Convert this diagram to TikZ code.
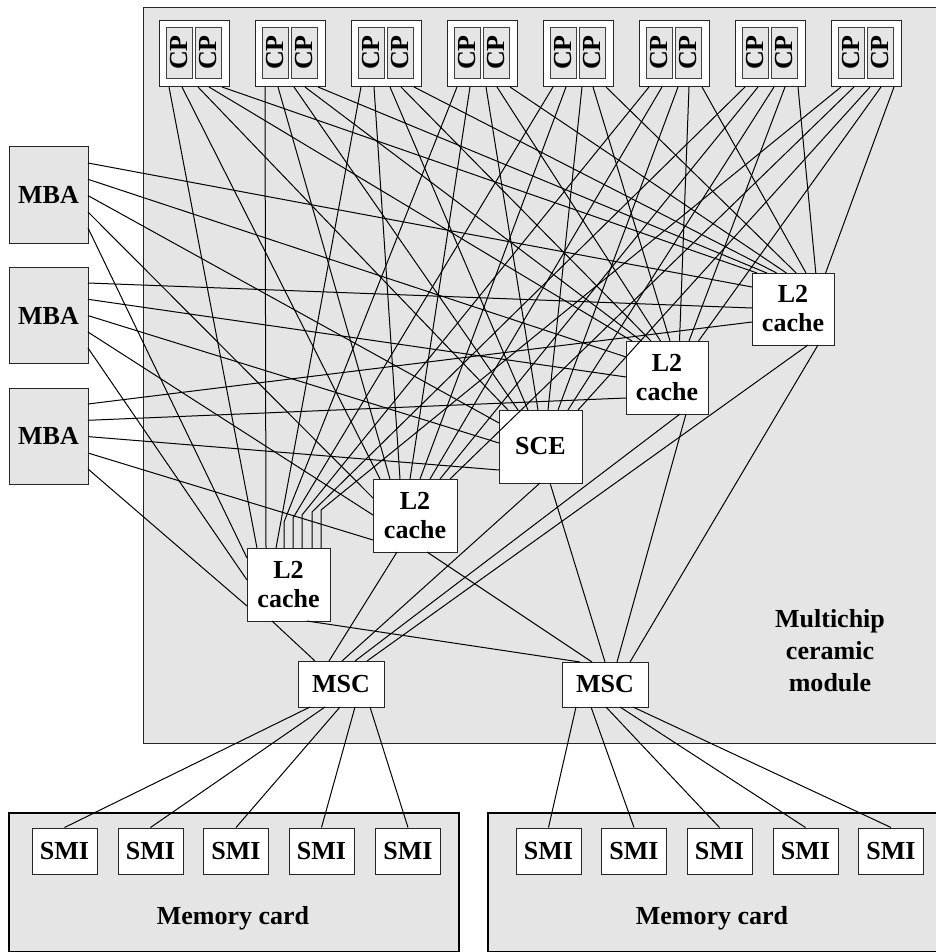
\documentclass[tikz,border=0pt]{standalone}
\usepackage{fontspec}
\usepackage{graphicx}
\setmainfont{Liberation Serif}
\definecolor{modgray}{RGB}{229,229,229}
\begin{document}
\begin{tikzpicture}[x=1pt,y=-1pt,
  font=\fontsize{26}{32}\selectfont\bfseries,
  box/.style={draw=black!85, fill=white, line width=1pt, inner sep=0pt},
  graybox/.style={draw=black!85, fill=modgray, line width=1pt, inner sep=0pt},
  cardbox/.style={draw=black, fill=modgray, line width=2pt, inner sep=0pt},
  cpbox/.style={draw=black!75, fill=modgray, line width=0.8pt, inner sep=0pt, minimum width=26.5, minimum height=51},
  wire/.style={line width=1pt, black},
]
\useasboundingbox (0,0) rectangle (935,952);
% module and memory cards
\node[graybox, anchor=north west, minimum width=800, minimum height=736] (module) at (143,7) {};
\node[cardbox, anchor=north west, minimum width=450, minimum height=139] (card1) at (8,812) {};
\node[cardbox, anchor=north west, minimum width=460, minimum height=139] (card2) at (487,812) {};
\node (mcmlabel) [align=center] at (830,651) {Multichip\\ceramic\\module};
\node (card1label) at (233,918) {Memory card};
\node (card2label) at (712,918) {Memory card};

% CP chips
\foreach \i in {1,...,8} {
  \pgfmathsetmacro\cx{194+96*(\i-1)}
  \node[box, minimum width=70, minimum height=66] (cp\i) at (\cx,54) {};
  \node[cpbox] (cp\i a) at (\cx-14.75,52.5) {\rotatebox{90}{CP}};
  \node[cpbox] (cp\i b) at (\cx+14.5,52.5) {\rotatebox{90}{CP}};
  \pgfmathsetmacro\lx{\cx-35}
  \coordinate (cp\i-A) at (\lx+10,87);
  \coordinate (cp\i-B) at (\lx+23,87);
  \coordinate (cp\i-S) at (\lx+39,87);
  \coordinate (cp\i-C) at (\lx+50,87);
  \coordinate (cp\i-D) at (\lx+63,87);
}

% MBAs
\node[graybox, minimum width=79, minimum height=96] (mba1) at (48.5,195) {MBA};
\node[graybox, minimum width=79, minimum height=96] (mba2) at (48.5,315.5) {MBA};
\node[graybox, minimum width=79, minimum height=96] (mba3) at (48.5,436) {MBA};
\foreach \m/\top in {1/147,2/267,3/388} {
  \coordinate (mba\m-D) at (88,\top+16);
  \coordinate (mba\m-C) at (88,\top+32.3);
  \coordinate (mba\m-S) at (88,\top+48.6);
  \coordinate (mba\m-B) at (88,\top+65);
  \coordinate (mba\m-A) at (88,\top+81);
}

% L2 caches and SCE
\node[box, minimum width=83, minimum height=73, align=center] (l2a) at (288.5,584.5) {L2\\[-3pt]cache};
\node[box, minimum width=84, minimum height=73, align=center] (l2b) at (415,515.5) {L2\\[-3pt]cache};
\node[box, minimum width=82, minimum height=73, align=center] (l2c) at (667,377.5) {L2\\[-3pt]cache};
\node[box, minimum width=82, minimum height=72, align=center] (l2d) at (793,309) {L2\\[-3pt]cache};
\node[box, minimum width=83, minimum height=73] (sce) at (540.5,446.5) {SCE};

% MSCs
\node[box, minimum width=86, minimum height=46] (msc1) at (341,684) {MSC};
\node[box, minimum width=86, minimum height=45] (msc2) at (605,684.5) {MSC};

% SMIs
\foreach \k/\sx in {1/64.5,2/150.5,3/236,4/321.5,5/408} {
  \node[box, minimum width=65, minimum height=46] (smi1\k) at (\sx,851) {SMI};
}
\foreach \k/\sx in {1/548.5,2/634,3/719.5,4/805.5,5/891} {
  \node[box, minimum width=65, minimum height=46] (smi2\k) at (\sx,851) {SMI};
}

% entry points on tops of L2 caches / SCE from CP chips
\foreach \i/\ea in {1/257,2/266,3/276,4/284,5/293,6/302,7/312,8/321} {
  \pgfmathsetmacro\eb{380+10*(\i-1)}
  \pgfmathsetmacro\es{508+10*(\i-1)}
  \pgfmathsetmacro\ec{632+9.5*(\i-1)}
  \pgfmathsetmacro\ed{757+9.8*(\i-1)}
  \coordinate (inA\i) at (\ea,548);
  \coordinate (inB\i) at (\eb,479);
  \coordinate (inS\i) at (\es,410);
  \coordinate (inC\i) at (\ec,341);
  \coordinate (inD\i) at (\ed,273);
}
\foreach \i/\yb in {4/522,5/518,6/515,7/512,8/510} {
  \coordinate (bendA\i) at (inA\i |- 0,\yb);
}

% CP wires
\foreach \i in {1,2,3} { \draw[wire] (cp\i-A) -- (inA\i); }
\foreach \i in {4,...,8} { \draw[wire] (cp\i-A) -- (bendA\i) -- (inA\i); }
\foreach \i in {1,...,8} {
  \draw[wire] (cp\i-B) -- (inB\i);
  \draw[wire] (cp\i-S) -- (inS\i);
  \draw[wire] (cp\i-C) -- (inC\i);
  \draw[wire] (cp\i-D) -- (inD\i);
}

% MBA entry points (left sides)
\foreach \m/\yd/\yc/\ys/\ybb/\ya in {1/287/357/423/498/558, 2/308/377/443/515/580, 3/322/398/470/540/606} {
  \coordinate (mD\m) at (752,\yd);
  \coordinate (mC\m) at (626,\yc);
  \coordinate (mS\m) at (499,\ys);
  \coordinate (mB\m) at (373,\ybb);
  \coordinate (mA\m) at (247,\ya);
  \draw[wire] (mba\m-D) -- (mD\m);
  \draw[wire] (mba\m-C) -- (mC\m);
  \draw[wire] (mba\m-S) -- (mS\m);
  \draw[wire] (mba\m-B) -- (mB\m);
  \draw[wire] (mba\m-A) -- (mA\m);
}

% L2/SCE to MSC
\coordinate (oA1) at (272,621);  \coordinate (oA2) at (307,621);
\coordinate (oB1) at (397,552);  \coordinate (oB2) at (427,552);
\coordinate (oS1) at (540,483);  \coordinate (oS2) at (550,483);
\coordinate (oC1) at (680,414);  \coordinate (oC2) at (686,414);
\coordinate (oD1) at (808,345);  \coordinate (oD2) at (818,345);
\foreach \t/\xa/\xb in {A/315/580, B/329/592, S/342/605, C/355/617, D/367/630} {
  \coordinate (k1\t) at (\xa,661);
  \coordinate (k2\t) at (\xb,662);
  \draw[wire] (o\t1) -- (k1\t);
  \draw[wire] (o\t2) -- (k2\t);
}

% MSC to SMI
\foreach \k/\x in {1/310,2/325,3/340,4/355,5/370} {
  \coordinate (q1\k) at (\x,707);
  \draw[wire] (q1\k) -- (smi1\k.north);
}
\foreach \k/\x in {1/576,2/591,3/606,4/620,5/633} {
  \coordinate (q2\k) at (\x,707);
  \draw[wire] (q2\k) -- (smi2\k.north);
}
\end{tikzpicture}
\end{document}
